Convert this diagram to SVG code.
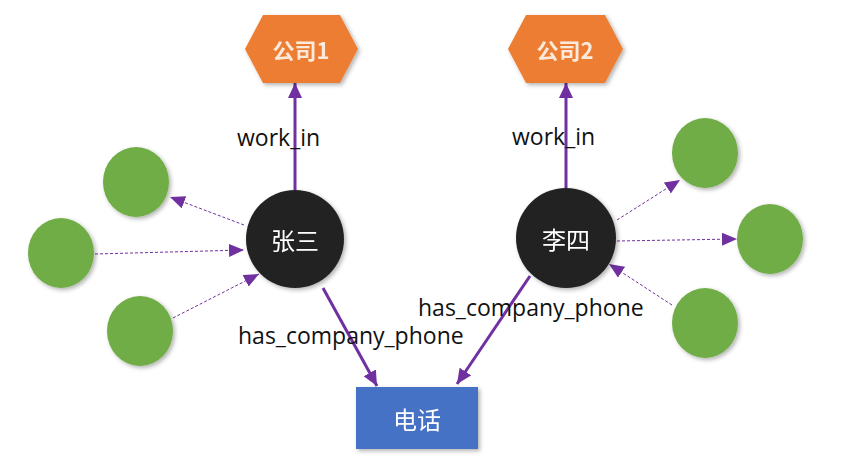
<svg xmlns="http://www.w3.org/2000/svg" width="847" height="474" viewBox="0 0 847 474">
<defs>
<style>
.lbl{font-family:"Open Sans","Liberation Sans",sans-serif;font-size:23px;fill:#111}
.cn{font-family:"Noto Sans CJK SC","Noto Sans",sans-serif;font-size:24px;fill:#fff;text-anchor:middle;dominant-baseline:central}
.co{font-family:"Noto Sans CJK SC","Noto Sans",sans-serif;font-size:22px;font-weight:bold;fill:#fbeadb;text-anchor:middle;dominant-baseline:central}
.thick{stroke:#7030a0;stroke-width:3;fill:none;marker-end:url(#ah)}
.thin{stroke:#7030a0;stroke-width:1;stroke-dasharray:3 2;fill:none;marker-end:url(#ahs)}
.green{fill:#70ad47}
</style>
<marker id="ah" markerUnits="userSpaceOnUse" markerWidth="16" markerHeight="14" refX="15" refY="7" orient="auto"><path d="M0,0 L15,7 L0,14 z" fill="#7030a0"/></marker>
<marker id="ahs" markerUnits="userSpaceOnUse" markerWidth="16" markerHeight="14" refX="15" refY="6.5" orient="auto"><path d="M0,0 L15,6.5 L0,13 z" fill="#7030a0"/></marker>
<filter id="sh" x="-20%" y="-20%" width="150%" height="150%"><feDropShadow dx="2" dy="2" stdDeviation="2" flood-color="#000" flood-opacity="0.3"/></filter>
</defs>
<rect width="847" height="474" fill="#fff"/>
<g id="connectors">
<line class="thick" x1="295" y1="190" x2="295" y2="83"/>
<line class="thick" x1="566" y1="188" x2="566" y2="83"/>
<line class="thick" x1="323" y1="288" x2="377" y2="386"/>
<line class="thick" x1="530" y1="276" x2="457" y2="384"/>
<line class="thin" x1="244" y1="225" x2="170" y2="197"/>
<line class="thin" x1="95" y1="254" x2="244" y2="250"/>
<line class="thin" x1="173" y1="318" x2="259" y2="274"/>
<line class="thin" x1="617" y1="220" x2="680" y2="180"/>
<line class="thin" x1="617" y1="241" x2="737" y2="239"/>
<line class="thin" x1="672" y1="305" x2="609" y2="264"/>
<text class="lbl" x="237" y="146">work_in</text>
<text class="lbl" x="512" y="145">work_in</text>
<text class="lbl" x="238" y="344">has_company_phone</text>
<text class="lbl" x="418" y="316">has_company_phone</text>
</g>
<g id="company1" filter="url(#sh)"><polygon points="245,49 263,15 340,15 358,49 340,83 263,83" fill="#ed7d31"/><text class="co" x="301" y="49">公司1</text></g>
<g id="company2" filter="url(#sh)"><polygon points="508,49 526,15 605,15 623,49 605,83 526,83" fill="#ed7d31"/><text class="co" x="565" y="49">公司2</text></g>
<g id="zhangsan" filter="url(#sh)"><circle cx="295" cy="239" r="49" fill="#222"/><text class="cn" x="295" y="239">张三</text></g>
<g id="lisi" filter="url(#sh)"><circle cx="566" cy="238" r="50" fill="#222"/><text class="cn" x="566" y="238">李四</text></g>
<g id="phone" filter="url(#sh)"><rect x="356" y="387" width="122" height="62" fill="#4472c4"/><text class="cn" x="417" y="418">电话</text></g>
<g id="g1" filter="url(#sh)"><ellipse class="green" cx="136" cy="182" rx="33" ry="35"/></g>
<g id="g2" filter="url(#sh)"><ellipse class="green" cx="61" cy="253" rx="33" ry="35"/></g>
<g id="g3" filter="url(#sh)"><ellipse class="green" cx="140" cy="331" rx="33" ry="35"/></g>
<g id="g4" filter="url(#sh)"><ellipse class="green" cx="705" cy="153" rx="33" ry="35"/></g>
<g id="g5" filter="url(#sh)"><ellipse class="green" cx="770" cy="239" rx="33" ry="35"/></g>
<g id="g6" filter="url(#sh)"><ellipse class="green" cx="705" cy="323" rx="33" ry="35"/></g>
</svg>
